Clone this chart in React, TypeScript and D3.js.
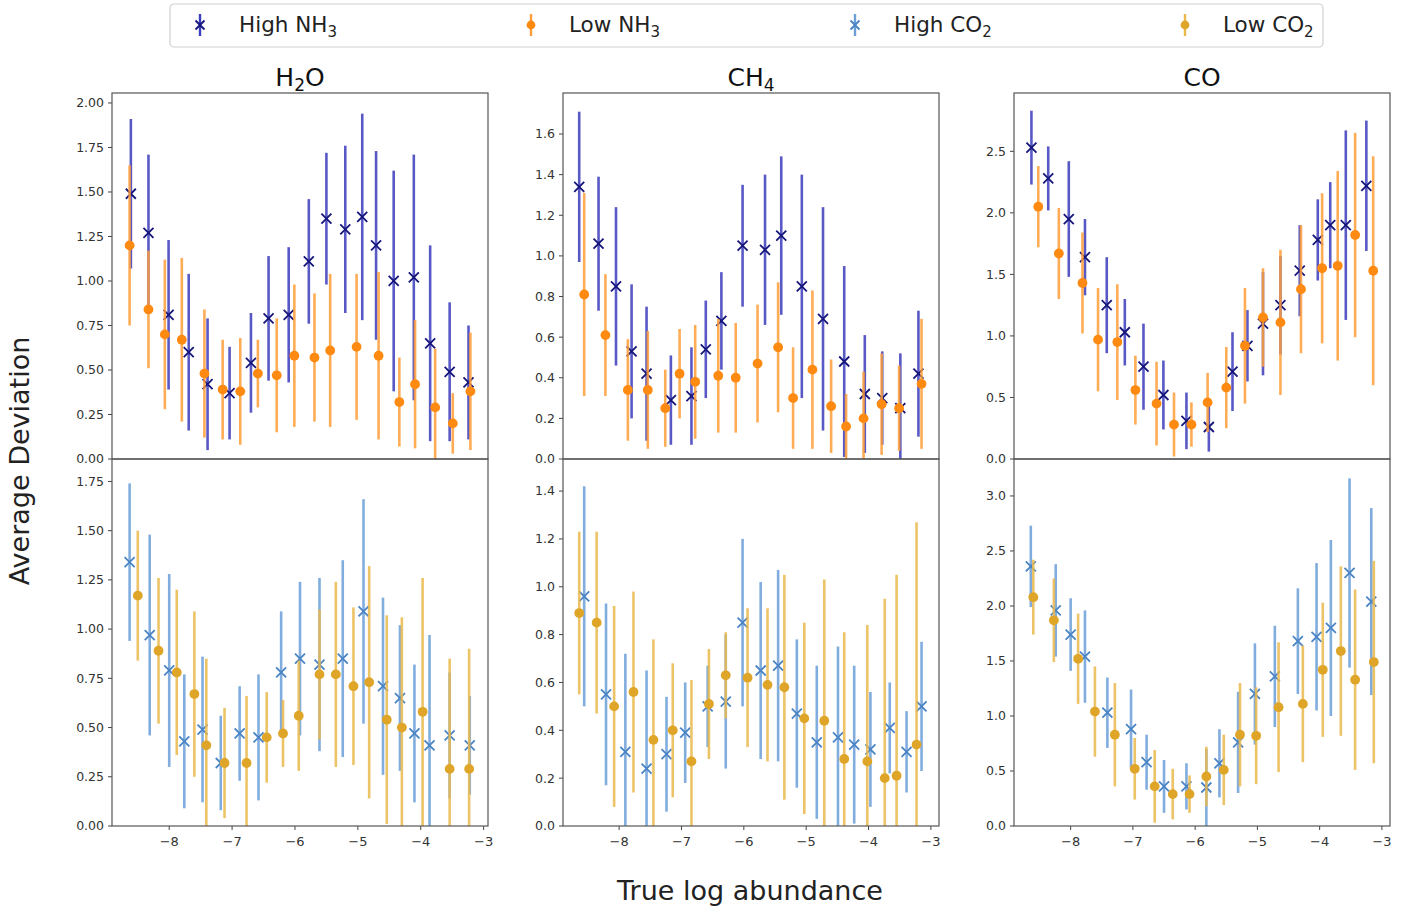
import React from 'react';
import * as d3 from 'd3';

// ---------- DATA ----------
// H2O, top (NH3)
const h2oHighNH3X = [-8.61,-8.33,-8.01,-7.69,-7.39,-7.04,-6.70,-6.42,-6.10,-5.78,-5.50,-5.20,-4.93,-4.71,-4.43,-4.11,-3.85,-3.54,-3.24];
const h2oHighNH3Y = [1.49,1.27,0.81,0.60,0.42,0.37,0.54,0.79,0.81,1.11,1.35,1.29,1.36,1.20,1.00,1.02,0.65,0.49,0.43];
const h2oHighNH3E = [0.42,0.44,0.42,0.44,0.37,0.26,0.28,0.35,0.38,0.35,0.37,0.47,0.58,0.53,0.62,0.69,0.55,0.39,0.32];
const h2oLowNH3X = [-8.63,-8.33,-8.07,-7.80,-7.44,-7.15,-6.87,-6.59,-6.29,-6.01,-5.69,-5.44,-5.02,-4.67,-4.34,-4.09,-3.77,-3.49,-3.21];
const h2oLowNH3Y = [1.20,0.84,0.70,0.67,0.48,0.39,0.38,0.48,0.47,0.58,0.57,0.61,0.63,0.58,0.32,0.42,0.29,0.20,0.38];
const h2oLowNH3E = [0.45,0.33,0.42,0.46,0.36,0.28,0.30,0.19,0.32,0.40,0.36,0.43,0.41,0.47,0.25,0.36,0.33,0.17,0.33];
// H2O, bottom (CO2)
const h2oHighCO2X = [-8.63,-8.31,-8.00,-7.76,-7.47,-7.18,-6.88,-6.58,-6.22,-5.92,-5.61,-5.24,-4.91,-4.60,-4.33,-4.10,-3.86,-3.54,-3.22];
const h2oHighCO2Y = [1.34,0.97,0.79,0.43,0.49,0.32,0.47,0.45,0.78,0.85,0.82,0.85,1.09,0.71,0.65,0.47,0.41,0.46,0.41];
const h2oHighCO2E = [0.40,0.51,0.49,0.34,0.37,0.24,0.24,0.32,0.31,0.39,0.44,0.50,0.57,0.45,0.37,0.35,0.56,0.32,0.25];
const h2oLowCO2X = [-8.50,-8.17,-7.88,-7.60,-7.41,-7.12,-6.77,-6.45,-6.19,-5.94,-5.61,-5.35,-5.07,-4.82,-4.54,-4.30,-3.97,-3.54,-3.23];
const h2oLowCO2Y = [1.17,0.89,0.78,0.67,0.41,0.32,0.32,0.45,0.47,0.56,0.77,0.77,0.71,0.73,0.54,0.50,0.58,0.29,0.29];
const h2oLowCO2E = [0.33,0.37,0.42,0.42,0.44,0.28,0.34,0.23,0.17,0.28,0.33,0.47,0.40,0.59,0.53,0.56,0.68,0.56,0.61];
// CH4, top
const ch4HighNH3X = [-8.64,-8.33,-8.05,-7.80,-7.56,-7.17,-6.84,-6.61,-6.36,-6.02,-5.66,-5.40,-5.07,-4.73,-4.39,-4.06,-3.78,-3.49,-3.20];
const ch4HighNH3Y = [1.34,1.06,0.85,0.53,0.42,0.29,0.31,0.54,0.68,1.05,1.03,1.10,0.85,0.69,0.48,0.32,0.30,0.25,0.42];
const ch4HighNH3E = [0.37,0.33,0.39,0.33,0.33,0.22,0.24,0.24,0.24,0.30,0.37,0.39,0.55,0.55,0.47,0.29,0.23,0.27,0.31];
const ch4LowNH3X = [-8.56,-8.22,-7.86,-7.54,-7.26,-7.03,-6.78,-6.41,-6.13,-5.78,-5.45,-5.21,-4.90,-4.60,-4.36,-4.08,-3.79,-3.51,-3.15];
const ch4LowNH3Y = [0.81,0.61,0.34,0.34,0.25,0.42,0.38,0.41,0.40,0.47,0.55,0.30,0.44,0.26,0.16,0.20,0.27,0.25,0.37];
const ch4LowNH3E = [0.50,0.30,0.25,0.29,0.19,0.22,0.28,0.28,0.27,0.29,0.32,0.25,0.39,0.23,0.16,0.23,0.25,0.21,0.32];
// CH4, bottom
const ch4HighCO2X = [-8.56,-8.21,-7.90,-7.56,-7.24,-6.94,-6.58,-6.29,-6.02,-5.73,-5.45,-5.15,-4.83,-4.49,-4.23,-3.97,-3.66,-3.39,-3.15];
const ch4HighCO2Y = [0.96,0.55,0.31,0.24,0.30,0.39,0.50,0.52,0.85,0.65,0.67,0.47,0.35,0.37,0.34,0.32,0.41,0.31,0.50];
const ch4HighCO2E = [0.46,0.38,0.41,0.41,0.24,0.21,0.17,0.28,0.35,0.37,0.40,0.31,0.32,0.38,0.33,0.24,0.19,0.17,0.27];
const ch4LowCO2X = [-8.64,-8.36,-8.08,-7.77,-7.45,-7.14,-6.84,-6.56,-6.29,-5.94,-5.62,-5.35,-5.03,-4.71,-4.39,-4.02,-3.74,-3.55,-3.23];
const ch4LowCO2Y = [0.89,0.85,0.50,0.56,0.36,0.40,0.27,0.51,0.63,0.62,0.59,0.58,0.45,0.44,0.28,0.27,0.20,0.21,0.34];
const ch4LowCO2E = [0.34,0.38,0.42,0.42,0.42,0.28,0.34,0.23,0.18,0.29,0.32,0.47,0.40,0.59,0.53,0.57,0.75,0.84,0.93];
// CO, top
const coHighNH3X = [-8.63,-8.36,-8.03,-7.77,-7.42,-7.13,-6.83,-6.51,-6.14,-5.78,-5.40,-5.16,-4.91,-4.63,-4.32,-4.03,-3.83,-3.58,-3.25];
const coHighNH3Y = [2.53,2.28,1.95,1.64,1.25,1.03,0.75,0.52,0.31,0.26,0.71,0.92,1.10,1.25,1.53,1.78,1.90,1.90,2.22];
const coHighNH3E = [0.30,0.26,0.47,0.31,0.39,0.27,0.35,0.28,0.23,0.20,0.32,0.29,0.42,0.40,0.37,0.33,0.35,0.77,0.53];
const coLowNH3X = [-8.52,-8.19,-7.81,-7.56,-7.25,-6.96,-6.62,-6.34,-6.06,-5.80,-5.50,-5.20,-4.91,-4.63,-4.30,-3.96,-3.71,-3.43,-3.14];
const coLowNH3Y = [2.05,1.67,1.43,0.97,0.95,0.56,0.45,0.28,0.28,0.46,0.58,0.92,1.15,1.11,1.38,1.55,1.57,1.82,1.53];
const coLowNH3E = [0.33,0.37,0.41,0.42,0.47,0.28,0.34,0.26,0.18,0.24,0.33,0.47,0.40,0.59,0.52,0.61,0.77,0.83,0.93];
// CO, bottom
const coHighCO2X = [-8.64,-8.24,-8.00,-7.77,-7.41,-7.03,-6.78,-6.50,-6.14,-5.82,-5.61,-5.31,-5.04,-4.72,-4.35,-4.05,-3.82,-3.52,-3.17];
const coHighCO2Y = [2.36,1.96,1.74,1.54,1.03,0.88,0.58,0.36,0.36,0.35,0.57,0.76,1.20,1.36,1.68,1.72,1.80,2.30,2.04];
const coHighCO2E = [0.37,0.42,0.33,0.42,0.32,0.36,0.25,0.24,0.21,0.35,0.31,0.46,0.46,0.46,0.48,0.67,0.80,0.86,0.85];
const coLowCO2X = [-8.60,-8.27,-7.88,-7.61,-7.29,-6.97,-6.65,-6.36,-6.09,-5.82,-5.54,-5.28,-5.02,-4.66,-4.27,-3.95,-3.66,-3.43,-3.13];
const coLowCO2Y = [2.08,1.87,1.52,1.04,0.83,0.52,0.36,0.29,0.29,0.45,0.51,0.83,0.82,1.08,1.11,1.42,1.59,1.33,1.49];
const coLowCO2E = [0.34,0.38,0.41,0.41,0.47,0.28,0.33,0.23,0.17,0.27,0.32,0.47,0.44,0.59,0.53,0.61,0.77,0.82,0.92];

const molecules = ['H2O', 'CH4', 'CO'];
const xTicks = [-8, -7, -6, -5, -4, -3];
const xDomains = [[-8.91, -2.93], [-8.90, -2.87], [-8.91, -2.87]];
const yTopTicks = [
  [0, 0.25, 0.5, 0.75, 1.0, 1.25, 1.5, 1.75, 2.0],
  [0, 0.2, 0.4, 0.6, 0.8, 1.0, 1.2, 1.4, 1.6],
  [0, 0.5, 1.0, 1.5, 2.0, 2.5],
];
const yBotTicks = [
  [0, 0.25, 0.5, 0.75, 1.0, 1.25, 1.5, 1.75],
  [0, 0.2, 0.4, 0.6, 0.8, 1.0, 1.2, 1.4],
  [0, 0.5, 1.0, 1.5, 2.0, 2.5, 3.0],
];
const yTopMax = [2.056, 1.802, 2.974];
const yBotMax = [1.864, 1.534, 3.336];
const yTickFormats = ['.2f', '.1f', '.1f'];

// ---------- STYLE ----------
const FONT = 'DejaVu Sans, sans-serif';
const STY = {
  highNH3: { bar: '#3c3cbc', mark: '#15157a', shape: 'x' },
  lowNH3: { bar: '#ff9d38', mark: '#ff8a12', shape: 'o' },
  highCO2: { bar: '#6a9fd8', mark: '#4a84c4', shape: 'x' },
  lowCO2: { bar: '#eab94c', mark: '#dfa528', shape: 'o' },
};

const colX = [[112, 488], [563, 939], [1014, 1390]];
const rowY = [[93, 459], [459, 826]];

type Sty = { bar: string; mark: string; shape: string };
type Ser = { x: number[]; y: number[]; e: number[]; s: Sty };

const panelSeries: Ser[][][] = [
  [
    [{ x: h2oHighNH3X, y: h2oHighNH3Y, e: h2oHighNH3E, s: STY.highNH3 }, { x: h2oLowNH3X, y: h2oLowNH3Y, e: h2oLowNH3E, s: STY.lowNH3 }],
    [{ x: h2oHighCO2X, y: h2oHighCO2Y, e: h2oHighCO2E, s: STY.highCO2 }, { x: h2oLowCO2X, y: h2oLowCO2Y, e: h2oLowCO2E, s: STY.lowCO2 }],
  ],
  [
    [{ x: ch4HighNH3X, y: ch4HighNH3Y, e: ch4HighNH3E, s: STY.highNH3 }, { x: ch4LowNH3X, y: ch4LowNH3Y, e: ch4LowNH3E, s: STY.lowNH3 }],
    [{ x: ch4HighCO2X, y: ch4HighCO2Y, e: ch4HighCO2E, s: STY.highCO2 }, { x: ch4LowCO2X, y: ch4LowCO2Y, e: ch4LowCO2E, s: STY.lowCO2 }],
  ],
  [
    [{ x: coHighNH3X, y: coHighNH3Y, e: coHighNH3E, s: STY.highNH3 }, { x: coLowNH3X, y: coLowNH3Y, e: coLowNH3E, s: STY.lowNH3 }],
    [{ x: coHighCO2X, y: coHighCO2Y, e: coHighCO2E, s: STY.highCO2 }, { x: coLowCO2X, y: coLowCO2Y, e: coLowCO2E, s: STY.lowCO2 }],
  ],
];

function Marker({ cx, cy, s, size = 5 }: { cx: number; cy: number; s: Sty; size?: number }) {
  if (s.shape === 'x') {
    return (
      <path
        d={`M${cx - size},${cy - size}L${cx + size},${cy + size}M${cx - size},${cy + size}L${cx + size},${cy - size}`}
        stroke={s.mark}
        strokeWidth={1.8}
        fill="none"
      />
    );
  }
  return <circle cx={cx} cy={cy} r={size * 0.98} fill={s.mark} />;
}

function Panel({ col, row }: { col: number; row: number }) {
  const [x0, x1] = colX[col];
  const [y0, y1] = rowY[row];
  const xs = d3.scaleLinear().domain(xDomains[col]).range([x0, x1]);
  const ymax = row === 0 ? yTopMax[col] : yBotMax[col];
  const ys = d3.scaleLinear().domain([0, ymax]).range([y1, y0]);
  const ticks = row === 0 ? yTopTicks[col] : yBotTicks[col];
  const fmt = d3.format(yTickFormats[col]);
  const clipId = `clip-${col}-${row}`;
  const series = panelSeries[col][row];
  return (
    <g>
      <defs>
        <clipPath id={clipId}>
          <rect x={x0} y={y0} width={x1 - x0} height={y1 - y0} />
        </clipPath>
      </defs>
      <g clipPath={`url(#${clipId})`}>
        {series.map((ser, si) => (
          <g key={si}>
            {ser.x.map((xv, i) => (
              <line
                key={'b' + i}
                x1={xs(xv)}
                x2={xs(xv)}
                y1={ys(ser.y[i] - ser.e[i])}
                y2={ys(ser.y[i] + ser.e[i])}
                stroke={ser.s.bar}
                strokeWidth={2.6}
                strokeOpacity={0.85}
              />
            ))}
            {ser.x.map((xv, i) => (
              <Marker key={'m' + i} cx={xs(xv)} cy={ys(ser.y[i])} s={ser.s} />
            ))}
          </g>
        ))}
      </g>
      {ticks.map((t) => (
        <g key={t}>
          <line x1={x0 - 4} x2={x0} y1={ys(t)} y2={ys(t)} stroke="#444" strokeWidth={1} />
          <text
            x={x0 - 8}
            y={ys(t)}
            dy="0.35em"
            textAnchor="end"
            fontFamily={FONT}
            fontSize={12.5}
            fill="#333"
          >
            {fmt(t)}
          </text>
        </g>
      ))}
      {row === 1 &&
        xTicks.map((t) => (
          <g key={t}>
            <line x1={xs(t)} x2={xs(t)} y1={y1} y2={y1 + 4} stroke="#444" strokeWidth={1} />
            <text
              x={xs(t)}
              y={y1 + 20}
              textAnchor="middle"
              fontFamily={FONT}
              fontSize={13}
              fill="#333"
            >
              {d3.format('')(t).replace('-', '\u2212')}
            </text>
          </g>
        ))}
      <rect x={x0} y={y0} width={x1 - x0} height={y1 - y0} fill="none" stroke="#555" strokeWidth={1.2} />
    </g>
  );
}

function Title({ name, x }: { name: string; x: number }) {
  const parts = name.match(/[A-Z][a-z]?|\d+/g) || [];
  return (
    <text x={x} y={86} textAnchor="middle" fontFamily={FONT} fontSize={25} fill="#111">
      {parts.map((p, i) =>
        /\d/.test(p) ? (
          <tspan key={i} fontSize={17} dy={5}>{p}</tspan>
        ) : (
          <tspan key={i} dy={i > 0 && /\d/.test(parts[i - 1]) ? -5 : 0}>{p}</tspan>
        )
      )}
    </text>
  );
}

const legendItems = [
  { label: 'High NH', sub: '3', s: STY.highNH3, gx: 200, tx: 239 },
  { label: 'Low NH', sub: '3', s: STY.lowNH3, gx: 531, tx: 569 },
  { label: 'High CO', sub: '2', s: STY.highCO2, gx: 855, tx: 894 },
  { label: 'Low CO', sub: '2', s: STY.lowCO2, gx: 1185, tx: 1223 },
];

export default function App() {
  return (
    <svg
      width={1405}
      height={907}
      style={{ position: 'absolute', left: 0, top: 0, background: '#fff' }}
    >
      <rect x={0} y={0} width={1405} height={907} fill="#fff" />
      <rect x={170} y={4} width={1153} height={43} rx={4} fill="#fff" stroke="#d0d0d0" strokeWidth={1.2} />
      {legendItems.map((it) => (
        <g key={it.label + it.sub}>
          <line x1={it.gx} x2={it.gx} y1={14} y2={36} stroke={it.s.bar} strokeWidth={2.4} />
          <Marker cx={it.gx} cy={25} s={it.s} size={4.5} />
          <text x={it.tx} y={32} fontFamily={FONT} fontSize={21.5} fill="#222">
            {it.label}
            <tspan fontSize={15} dy={5}>{it.sub}</tspan>
          </text>
        </g>
      ))}
      {molecules.map((m, c) => (
        <Title key={m} name={m} x={(colX[c][0] + colX[c][1]) / 2} />
      ))}
      {[0, 1, 2].map((c) => (
        <g key={c}>
          <Panel col={c} row={0} />
          <Panel col={c} row={1} />
        </g>
      ))}
      <text
        transform="translate(29,461) rotate(-90)"
        textAnchor="middle"
        fontFamily={FONT}
        fontSize={27}
        fill="#222"
      >
        Average Deviation
      </text>
      <text x={750} y={900} textAnchor="middle" fontFamily={FONT} fontSize={27} fill="#222">
        True log abundance
      </text>
    </svg>
  );
}
